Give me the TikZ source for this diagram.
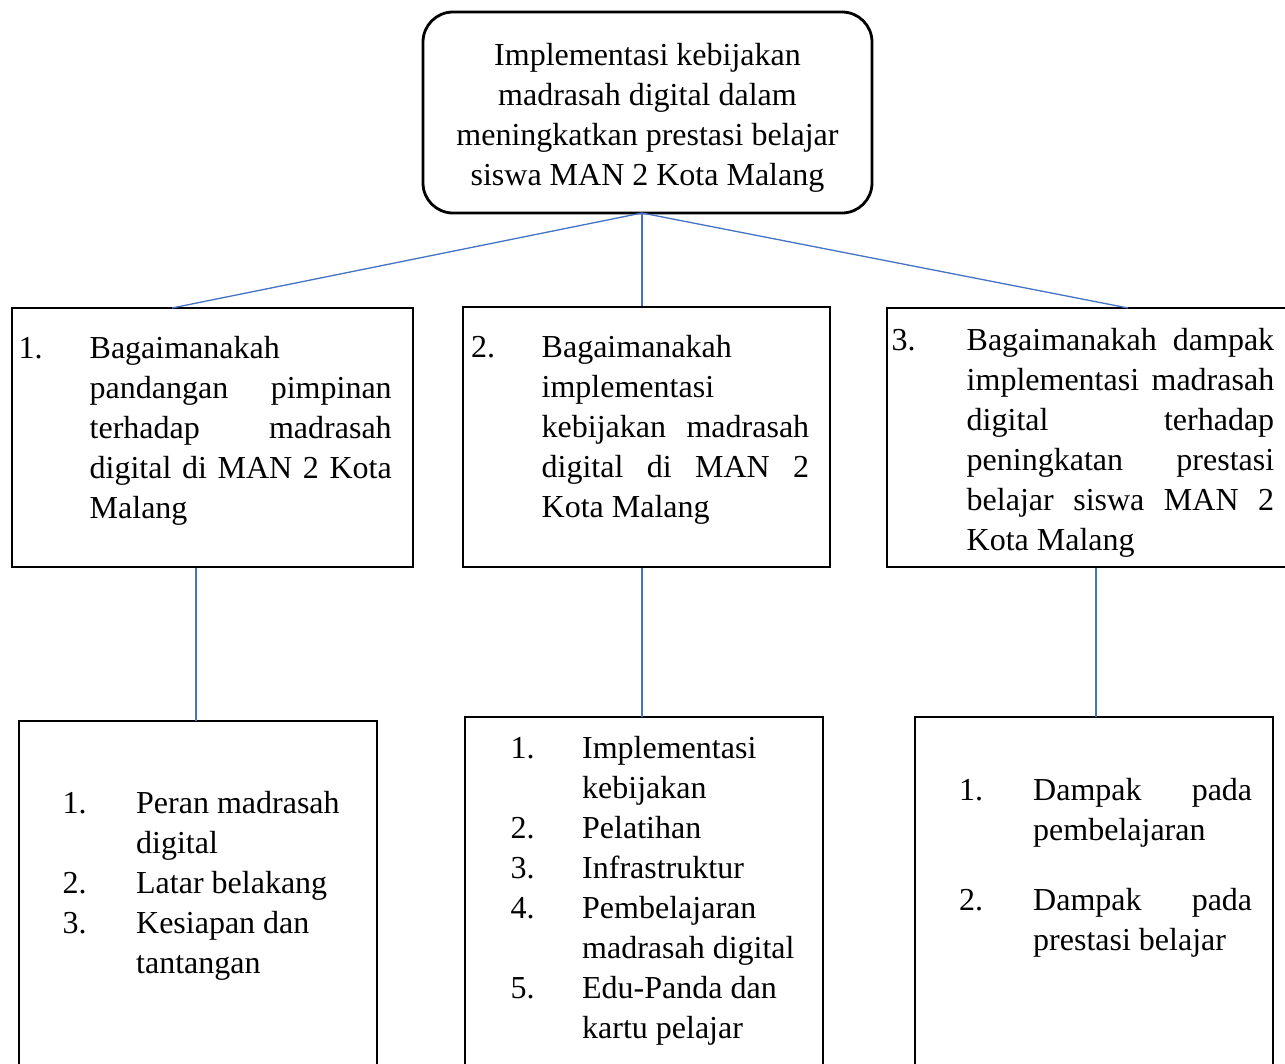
\documentclass[tikz,border=0pt]{standalone}
\usepackage{fontspec}
\setmainfont{Liberation Serif}
\usetikzlibrary{positioning}
\definecolor{garisbiru}{RGB}{68,114,196}
\newcommand{\rata}[2]{\makebox[#1][s]{#2}}

\begin{document}
\begin{tikzpicture}[x=1pt,y=-1pt,font=\fontsize{32}{40}\selectfont,
    kotak/.style={draw,line width=2.8pt,inner sep=0pt},
    judulbox/.style={kotak,rounded corners=30pt},
    isi/.style={inner sep=0pt,anchor=base west},
    garis/.style={draw=garisbiru,line width=1.3pt}]

\path[use as bounding box] (0,0) rectangle (1285,1063);
\clip (0,0) rectangle (1285,1063);

% kotak judul
\node[judulbox,minimum width=449pt,minimum height=201pt] (judul) at (647.5,112.5) {};
\node[inner sep=0pt,anchor=base] (judulteks) at (647.5,65) {\begin{tabular}[t]{@{}c@{}}
Implementasi kebijakan\\ madrasah digital dalam\\ meningkatkan prestasi belajar\\ siswa MAN 2 Kota Malang
\end{tabular}};

% rumusan masalah
\node[kotak,minimum width=401pt,minimum height=259pt] (t1) at (212.5,437.5) {};
\node[kotak,minimum width=367pt,minimum height=260pt] (t2) at (646.5,437) {};
\node[kotak,minimum width=408pt,minimum height=259pt] (t3) at (1091,437.5) {};

\node[isi] (t1teks) at (18.5,358) {\begin{tabular}[t]{@{}p{71pt}@{}l@{}}
1. & Bagaimanakah\\
 & \rata{302pt}{pandangan pimpinan}\\
 & \rata{302pt}{terhadap madrasah}\\
 & \rata{302pt}{digital di MAN 2 Kota}\\
 & Malang
\end{tabular}};
\node[isi] (t2teks) at (471,357) {\begin{tabular}[t]{@{}p{70.5pt}@{}l@{}}
2. & Bagaimanakah\\
 & implementasi\\
 & \rata{267.5pt}{kebijakan madrasah}\\
 & \rata{267.5pt}{digital di MAN 2}\\
 & Kota Malang
\end{tabular}};
\node[isi] (t3teks) at (891.5,350) {\begin{tabular}[t]{@{}p{75pt}@{}l@{}}
3. & \rata{307.5pt}{Bagaimanakah dampak}\\
 & \rata{307.5pt}{implementasi madrasah}\\
 & \rata{307.5pt}{digital terhadap}\\
 & \rata{307.5pt}{peningkatan prestasi}\\
 & \rata{307.5pt}{belajar siswa MAN 2}\\
 & Kota Malang
\end{tabular}};

% rincian
\node[kotak,minimum width=358pt,minimum height=360pt] (r1) at (198,901) {};
\node[kotak,minimum width=358pt,minimum height=364pt] (r2) at (644,899) {};
\node[kotak,minimum width=358pt,minimum height=364pt] (r3) at (1094,899) {};

\node[isi] (r1teks) at (62.5,813) {\begin{tabular}[t]{@{}p{73.5pt}@{}l@{}}
1. & Peran madrasah\\
 & digital\\
2. & Latar belakang\\
3. & Kesiapan dan\\
 & tantangan
\end{tabular}};
\node[isi] (r2teks) at (510.5,758) {\begin{tabular}[t]{@{}p{71.5pt}@{}l@{}}
1. & Implementasi\\
 & kebijakan\\
2. & Pelatihan\\
3. & Infrastruktur\\
4. & Pembelajaran\\
 & madrasah digital\\
5. & Edu-Panda dan\\
 & kartu pelajar
\end{tabular}};
\node[isi] (r3teks) at (959,800) {\begin{tabular}[t]{@{}p{74pt}@{}l@{}}
1. & \rata{219pt}{Dampak pada}\\
 & pembelajaran\\[30pt]
2. & \rata{219pt}{Dampak pada}\\
 & prestasi belajar
\end{tabular}};

% garis penghubung
\coordinate (pangkal) at (642,213);
\coordinate (u1) at (172,308);
\coordinate (u3) at (1128,308);
\coordinate (v1) at (196,721);
\coordinate (v2) at (642,717);
\coordinate (v3) at (1096,717);
\draw[garis] (pangkal) -- (u1);
\draw[garis] (pangkal) -- (pangkal |- t2.north);
\draw[garis] (pangkal) -- (u3);
\draw[garis] (v1) -- (v1 |- t1.south);
\draw[garis] (v2) -- (v2 |- t2.south);
\draw[garis] (v3) -- (v3 |- t3.south);
\end{tikzpicture}
\end{document}
